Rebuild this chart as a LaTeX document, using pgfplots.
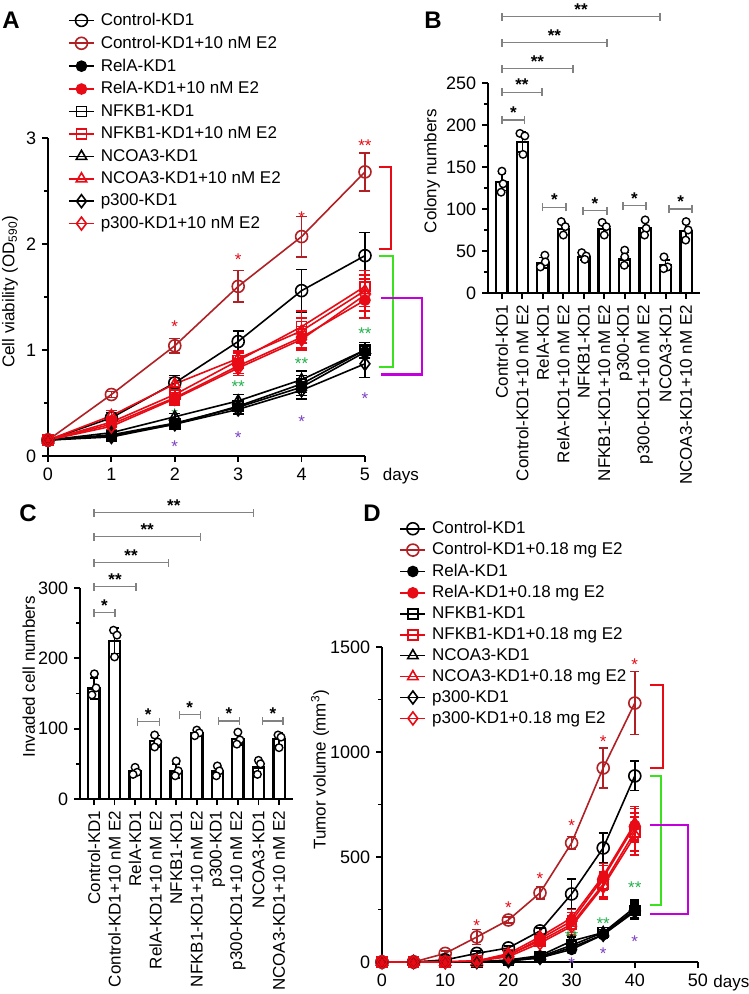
\documentclass[border=0pt]{standalone}
\usepackage{fontspec}
\setmainfont{Liberation Sans}
\usepackage{pgfplots}
\pgfplotsset{compat=1.18}
\definecolor{dred}{RGB}{176,32,36}
\definecolor{bred}{RGB}{232,10,20}
\definecolor{sgreen}{RGB}{34,177,76}
\definecolor{spurple}{RGB}{125,65,195}
\definecolor{bgreen}{RGB}{60,225,30}
\definecolor{bmag}{RGB}{195,0,220}
\definecolor{bgray}{RGB}{130,130,130}
\newcommand{\fs}{\fontsize{17}{20}\selectfont}
\newcommand{\tfs}{\fontsize{18}{21}\selectfont}
\newcommand{\rfs}{\fontsize{17}{20}\selectfont}
\pgfplotsset{
  prism/.style={
    scale only axis, anchor=south west,
    axis lines=left,
    axis line style={-, line width=2pt},
    tick align=outside,
    major tick length=6pt,
    minor tick length=4pt,
    every tick/.style={line width=1.8pt, black},
    /pgf/number format/assume math mode=true,
    /pgf/number format/1000 sep={},
    clip=false,
    tick label style={font=\tfs},
    label style={font=\fs},
  },
  lineser/.style={line width=1.6pt, mark options={solid, line width=1.6pt},
    error bars/y dir=both, error bars/y explicit,
    error bars/error bar style={line width=1.6pt},
    error bars/error mark options={line width=1.6pt, mark size=5.5pt, rotate=90}},
  mo/.style={mark=o, mark size=6pt},
  mf/.style={mark=*, mark size=5pt},
  ms/.style={mark=square, mark size=5pt},
  mt/.style={mark=triangle, mark size=6pt},
  md/.style={mark=diamond, mark size=6.5pt},
  lgd/.style={legend cell align=left,
    legend style={draw=none, fill=none, inner sep=0pt, font=\fs, row sep=#1, column sep=4pt, anchor=north west},
    legend image code/.code={\draw[mark repeat=2,mark phase=2] plot coordinates {(0pt,0pt) (12.5pt,0pt) (25pt,0pt)};}},
  bars/.style={ybar, bar width=0.55, fill=white, draw=black, line width=2.3pt,
    error bars/y dir=both, error bars/y explicit, error bars/error bar style={line width=1.5pt},
    error bars/error mark options={line width=1.5pt, mark size=4pt, rotate=90}},
  dots/.style={only marks, mark=*, mark size=3.8pt, mark options={fill=white, draw=black, line width=1.4pt}},
  catx/.style={xmin=-0.68, xmax=9.68, xtick={0,...,9},
    xticklabels={Control-KD1, Control-KD1+10 nM E2, RelA-KD1, RelA-KD1+10 nM E2, NFKB1-KD1, NFKB1-KD1+10 nM E2, p300-KD1, p300-KD1+10 nM E2, NCOA3-KD1, NCOA3-KD1+10 nM E2},
    xticklabel style={rotate=90, anchor=east, font=\rfs}},
}
\tikzset{
  st/.style={anchor=base, yshift=-9pt, inner sep=0pt, font=\fs},
  bst/.style={anchor=base, yshift=1.5pt, inner sep=0pt, font=\fs\bfseries},
  gbr/.style={bgray, line width=1.3pt},
}
\newcommand{\gbrk}[4]{% x1 x2 y label
  \draw[gbr] (axis cs:#1,#3) -- (axis cs:#2,#3);
  \draw[gbr] (axis cs:#1,#3) ++(0pt,-4pt) -- ++(0pt,8pt);
  \draw[gbr] (axis cs:#2,#3) ++(0pt,-4pt) -- ++(0pt,8pt);
  \node[bst] at (axis cs:{(#1+#2)/2},#3) {#4};
}
\begin{document}
\fs
\begin{tikzpicture}
\useasboundingbox (0pt,0pt) rectangle (749pt,994pt);
% ---------------- Panel A ----------------
\begin{axis}[prism, at={(48pt,538pt)}, width=317pt, height=318pt,
  xmin=0, xmax=5, ymin=0, ymax=3,
  xtick={0,...,5}, ytick={0,1,2,3}, minor ytick={0.5,1.5,2.5},
  ylabel={Cell viability (OD\textsubscript{590})},
  ylabel style={at={(axis description cs:-0.12,0.516)}, anchor=center},
  lgd=4pt, legend style={at={(rel axis cs:0.063,1.40)}}]
\addplot[lineser, black, mo] coordinates {(0,0.15) +- (0,0.02) (1,0.36) +- (0,0.05) (2,0.69) +- (0,0.07) (3,1.08) +- (0,0.1) (4,1.56) +- (0,0.2) (5,1.89) +- (0,0.22)};
\addlegendentry{Control-KD1}
\addplot[lineser, dred, mo] coordinates {(0,0.15) +- (0,0.02) (1,0.58) +- (0,0.03) (2,1.04) +- (0,0.07) (3,1.60) +- (0,0.15) (4,2.07) +- (0,0.19) (5,2.68) +- (0,0.18)};
\addlegendentry{Control-KD1+10 nM E2}
\addplot[lineser, black, mf] coordinates {(0,0.15) +- (0,0.01) (1,0.20) +- (0,0.02) (2,0.31) +- (0,0.03) (3,0.46) +- (0,0.06) (4,0.65) +- (0,0.08) (5,0.98) +- (0,0.06)};
\addlegendentry{RelA-KD1}
\addplot[lineser, bred, mf] coordinates {(0,0.15) +- (0,0.01) (1,0.30) +- (0,0.05) (2,0.55) +- (0,0.05) (3,0.85) +- (0,0.07) (4,1.12) +- (0,0.1) (5,1.47) +- (0,0.17)};
\addlegendentry{RelA-KD1+10 nM E2}
\addplot[lineser, black, ms] coordinates {(0,0.15) +- (0,0.01) (1,0.19) +- (0,0.02) (2,0.30) +- (0,0.03) (3,0.47) +- (0,0.05) (4,0.68) +- (0,0.08) (5,1.00) +- (0,0.07)};
\addlegendentry{NFKB1-KD1}
\addplot[lineser, bred, ms] coordinates {(0,0.15) +- (0,0.01) (1,0.32) +- (0,0.05) (2,0.58) +- (0,0.06) (3,0.90) +- (0,0.07) (4,1.22) +- (0,0.15) (5,1.60) +- (0,0.15)};
\addlegendentry{NFKB1-KD1+10 nM E2}
\addplot[lineser, black, mt] coordinates {(0,0.15) +- (0,0.01) (1,0.22) +- (0,0.02) (2,0.37) +- (0,0.03) (3,0.52) +- (0,0.06) (4,0.72) +- (0,0.08) (5,1.00) +- (0,0.07)};
\addlegendentry{NCOA3-KD1}
\addplot[lineser, bred, mt] coordinates {(0,0.15) +- (0,0.01) (1,0.38) +- (0,0.05) (2,0.68) +- (0,0.06) (3,0.92) +- (0,0.07) (4,1.18) +- (0,0.12) (5,1.56) +- (0,0.15)};
\addlegendentry{NCOA3-KD1+10 nM E2}
\addplot[lineser, black, md] coordinates {(0,0.15) +- (0,0.01) (1,0.18) +- (0,0.02) (2,0.30) +- (0,0.03) (3,0.44) +- (0,0.05) (4,0.62) +- (0,0.08) (5,0.87) +- (0,0.13)};
\addlegendentry{p300-KD1}
\addplot[lineser, bred, md] coordinates {(0,0.15) +- (0,0.01) (1,0.28) +- (0,0.05) (2,0.54) +- (0,0.06) (3,0.83) +- (0,0.07) (4,1.10) +- (0,0.1) (5,1.52) +- (0,0.15)};
\addlegendentry{p300-KD1+10 nM E2}
\node[st, text=bred] at (axis cs:2,1.25) {*};
\node[st, text=bred] at (axis cs:3,1.88) {*};
\node[st, text=bred] at (axis cs:4,2.28) {*};
\node[st, text=bred] at (axis cs:5,2.96) {**};
\node[st, text=sgreen] at (axis cs:2,0.42) {*};
\node[st, text=sgreen] at (axis cs:3,0.68) {**};
\node[st, text=sgreen] at (axis cs:4,0.90) {**};
\node[st, text=sgreen] at (axis cs:5,1.18) {**};
\node[st, text=spurple] at (axis cs:2,0.12) {*};
\node[st, text=spurple] at (axis cs:3,0.20) {*};
\node[st, text=spurple] at (axis cs:4,0.35) {*};
\node[st, text=spurple] at (axis cs:5,0.57) {*};
\draw[bred, line width=2pt] (axis cs:5.22,2.73) -- (axis cs:5.41,2.73) -- (axis cs:5.41,1.95) -- (axis cs:5.22,1.95);
\draw[bgreen, line width=2pt] (axis cs:5.22,1.89) -- (axis cs:5.44,1.89) -- (axis cs:5.44,0.84) -- (axis cs:5.22,0.84);
\draw[bmag, line width=2.4pt] (axis cs:5.25,1.49) -- (axis cs:5.90,1.49) -- (axis cs:5.90,0.77) -- (axis cs:5.25,0.77);
\node[anchor=base west, inner sep=0pt, font=\fs] at (axis cs:5.28,0) [yshift=-25pt] {days};
\end{axis}
% ---------------- Panel B ----------------
\begin{axis}[prism, catx, at={(488pt,701pt)}, width=212pt, height=210pt,
  ymin=0, ymax=250,
  ytick={0,50,...,250}, minor ytick={25,75,...,225},
  ylabel={Colony numbers},
  ylabel style={at={(axis description cs:-0.264,0.58)}, anchor=center}]
\addplot[bars] coordinates {(0,132) +- (0,10) (1,180) +- (0,12) (2,36) +- (0,6) (3,76) +- (0,7) (4,43) +- (0,4) (5,76) +- (0,7) (6,40) +- (0,8) (7,77) +- (0,8) (8,33) +- (0,6) (9,74) +- (0,9)};
\addplot[dots] coordinates {(0,145) (0.06,130) (-0.04,120) (0.88,190) (1.12,187) (1.03,165) (2.1,45) (2.12,37) (1.88,31) (2.9,85) (3.1,79) (3,69) (3.9,48) (4.12,44) (4.05,40) (4.9,84) (5.1,79) (5,69) (6,51) (6,43) (5.98,33) (7,87) (7.05,77) (6.97,69) (7.92,43) (8.1,31) (7.9,29) (9,85) (9.1,75) (8.98,63)};
\gbrk{0}{1.12}{206}{*}
\gbrk{0}{1.96}{239}{**}
\gbrk{0}{3.47}{267}{**}
\gbrk{0}{5.13}{298}{**}
\gbrk{0}{7.73}{329}{**}
\gbrk{2.0}{3.13}{102}{*}
\gbrk{3.96}{5.13}{98}{*}
\gbrk{5.92}{7.04}{104}{*}
\gbrk{8.17}{9.29}{100}{*}
\end{axis}
% ---------------- Panel C ----------------
\begin{axis}[prism, catx, at={(80pt,195pt)}, width=213pt, height=211pt,
  ymin=0, ymax=300,
  ytick={0,100,200,300}, minor ytick={50,150,250},
  ylabel={Invaded cell numbers},
  ylabel style={at={(axis description cs:-0.24,0.58)}, anchor=center}]
\addplot[bars] coordinates {(0,157) +- (0,15) (1,225) +- (0,18) (2,40) +- (0,5) (3,82) +- (0,8) (4,40) +- (0,10) (5,93) +- (0,4) (6,39) +- (0,7) (7,85) +- (0,8) (8,45) +- (0,10) (9,85) +- (0,9)};
\addplot[dots] coordinates {(0.02,178) (-0.1,148) (0.1,158) (0.95,240) (1.12,233) (1,202) (2,45) (2.1,38) (1.9,35) (2.95,91) (3.1,81) (2.95,74) (4,54) (4.1,40) (3.95,33) (5,98) (5.12,94) (4.9,90) (6,47) (6.1,40) (5.95,33) (7,95) (7.1,84) (6.95,78) (8,55) (8.1,50) (7.95,35) (8.95,91) (9.1,88) (9,73)};
\gbrk{0}{1.02}{265}{*}
\gbrk{0}{2.05}{302}{**}
\gbrk{0}{3.61}{336}{**}
\gbrk{0}{5.17}{373}{**}
\gbrk{0}{7.76}{407}{**}
\gbrk{2.1}{3.17}{110}{*}
\gbrk{4.15}{5.17}{120}{*}
\gbrk{6.05}{7.07}{111}{*}
\gbrk{8.2}{9.2}{111}{*}
\end{axis}
% ---------------- Panel D ----------------
\begin{axis}[prism, at={(382pt,32pt)}, width=316pt, height=315pt,
  xmin=0, xmax=50, ymin=0, ymax=1500,
  xtick={0,10,...,50}, ytick={0,500,1000,1500}, minor ytick={250,750,1250},
  ylabel={Tumor volume (mm\textsuperscript{3})},
  ylabel style={at={(axis description cs:-0.196,0.61)}, anchor=center},
  lgd=2.5pt, legend style={at={(rel axis cs:0.055,1.406)}},
  lineser/.append style={error bars/error mark options={line width=1.6pt, mark size=4.5pt, rotate=90}}]
\addplot[lineser, black, mo] coordinates {(0,0) (5,0) (10,10) +- (0,5) (15,41) +- (0,10) (20,67) +- (0,10) (25,148) +- (0,15) (30,324) +- (0,70) (35,543) +- (0,70) (40,886) +- (0,70)};
\addlegendentry{Control-KD1}
\addplot[lineser, dred, mo] coordinates {(0,0) (5,0) (10,41) +- (0,10) (15,119) +- (0,35) (20,200) +- (0,15) (25,329) +- (0,30) (30,567) +- (0,30) (35,924) +- (0,95) (40,1233) +- (0,150)};
\addlegendentry{Control-KD1+0.18 mg E2}
\addplot[lineser, black, mf] coordinates {(0,0) (5,0) (10,0) (15,0) (20,5) +- (0,3) (25,20) +- (0,8) (30,60) +- (0,15) (35,130) +- (0,15) (40,250) +- (0,40)};
\addlegendentry{RelA-KD1}
\addplot[lineser, bred, mf] coordinates {(0,0) (5,0) (10,0) (15,5) +- (0,5) (20,30) +- (0,10) (25,110) +- (0,15) (30,195) +- (0,40) (35,400) +- (0,60) (40,650) +- (0,80)};
\addlegendentry{RelA-KD1+0.18 mg E2}
\addplot[lineser, black, ms] coordinates {(0,0) (5,0) (10,0) (15,0) (20,8) +- (0,3) (25,25) +- (0,8) (30,80) +- (0,20) (35,140) +- (0,15) (40,245) +- (0,35)};
\addlegendentry{NFKB1-KD1}
\addplot[lineser, bred, ms] coordinates {(0,0) (5,0) (10,0) (15,5) +- (0,5) (20,35) +- (0,10) (25,100) +- (0,15) (30,180) +- (0,40) (35,370) +- (0,60) (40,620) +- (0,90)};
\addlegendentry{NFKB1-KD1+0.18 mg E2}
\addplot[lineser, black, mt] coordinates {(0,0) (5,0) (10,0) (15,0) (20,10) +- (0,3) (25,30) +- (0,8) (30,100) +- (0,20) (35,140) +- (0,15) (40,260) +- (0,35)};
\addlegendentry{NCOA3-KD1}
\addplot[lineser, bred, mt] coordinates {(0,0) (5,0) (10,0) (15,5) +- (0,5) (20,40) +- (0,10) (25,120) +- (0,15) (30,210) +- (0,40) (35,410) +- (0,60) (40,660) +- (0,80)};
\addlegendentry{NCOA3-KD1+0.18 mg E2}
\addplot[lineser, black, md] coordinates {(0,0) (5,0) (10,0) (15,0) (20,5) +- (0,3) (25,20) +- (0,8) (30,70) +- (0,15) (35,130) +- (0,15) (40,240) +- (0,35)};
\addlegendentry{p300-KD1}
\addplot[lineser, bred, md] coordinates {(0,0) (5,0) (10,0) (15,5) +- (0,5) (20,25) +- (0,10) (25,90) +- (0,15) (30,170) +- (0,40) (35,360) +- (0,60) (40,600) +- (0,90)};
\addlegendentry{p300-KD1+0.18 mg E2}
\node[st, text=bred] at (axis cs:15,190) {*};
\node[st, text=bred] at (axis cs:20,276) {*};
\node[st, text=bred] at (axis cs:25,410) {*};
\node[st, text=bred] at (axis cs:30,662) {*};
\node[st, text=bred] at (axis cs:35,1062) {*};
\node[st, text=bred] at (axis cs:40,1433) {*};
\node[st, text=sgreen] at (axis cs:30,138) {**};
\node[st, text=sgreen] at (axis cs:35,200) {**};
\node[st, text=sgreen] at (axis cs:40,371) {**};
\node[st, text=spurple] at (axis cs:30,5) {*};
\node[st, text=spurple] at (axis cs:35,57) {*};
\node[st, text=spurple] at (axis cs:40,114) {*};
\draw[bred, line width=2pt] (axis cs:42.4,1319) -- (axis cs:44.5,1319) -- (axis cs:44.5,924) -- (axis cs:42.4,924);
\draw[bgreen, line width=2pt] (axis cs:42.4,886) -- (axis cs:44.1,886) -- (axis cs:44.1,271) -- (axis cs:42.4,271);
\draw[bmag, line width=2.4pt] (axis cs:42.4,652) -- (axis cs:48.4,652) -- (axis cs:48.4,229) -- (axis cs:42.4,229);
\node[anchor=base west, inner sep=0pt, font=\fs] at (axis cs:52.4,0) [yshift=-25pt] {days};
\end{axis}
% panel letters
\node[font=\bfseries\fontsize{24}{26}\selectfont] at (11pt,974pt) {A};
\node[font=\bfseries\fontsize{24}{26}\selectfont] at (433pt,974pt) {B};
\node[font=\bfseries\fontsize{24}{26}\selectfont] at (28pt,481pt) {C};
\node[font=\bfseries\fontsize{24}{26}\selectfont] at (372pt,481pt) {D};
\end{tikzpicture}
\end{document}
